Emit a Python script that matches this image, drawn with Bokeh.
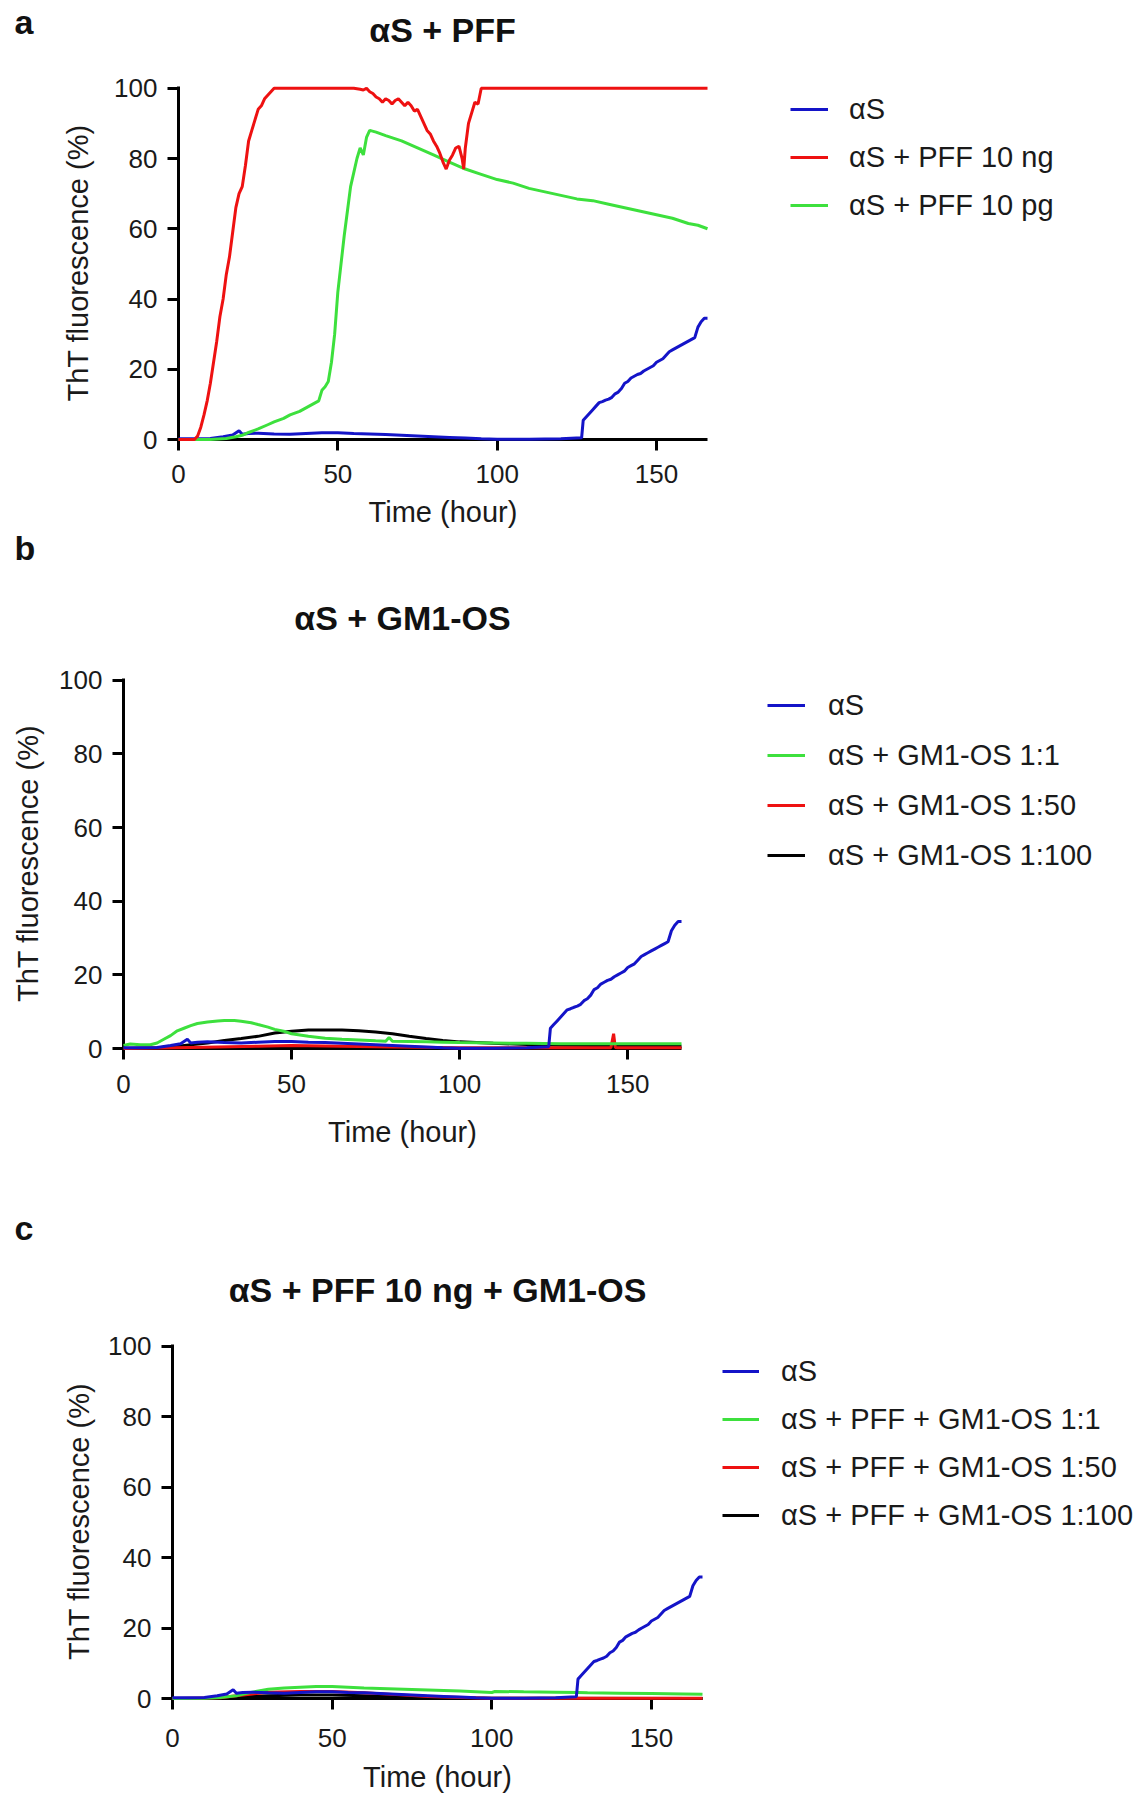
from bokeh.plotting import figure
from bokeh.models import Legend, LegendItem, Label, Range1d, FixedTicker
from bokeh.embed import file_html
from bokeh.resources import INLINE

FONT = "Liberation Sans"
PAGE_W = 1140

# ---------------- data ----------------
# alpha-synuclein alone (same control curve in all panels)
t_as = [0, 5, 10, 14, 17, 19, 20, 22, 25, 30, 35, 40, 45, 50, 55, 60, 65, 70, 75, 80, 85, 90, 95,
        100, 110, 120, 126.5, 127, 128, 129, 130, 131, 132, 133, 134, 135, 136, 137, 138, 139, 140,
        141, 142, 143, 144, 145, 146, 147, 148, 149, 150, 151, 152, 153, 154, 155, 156, 157, 158,
        159, 160, 161, 162, 163, 164, 165, 166]
y_as = [0.2, 0.2, 0.3, 0.8, 1.3, 2.5, 1.5, 1.7, 1.8, 1.6, 1.5, 1.7, 1.9, 1.9, 1.7, 1.6, 1.4, 1.2,
        1.0, 0.8, 0.6, 0.4, 0.2, 0.1, 0.1, 0.2, 0.5, 5.5, 6.5, 7.5, 8.5, 9.5, 10.5, 10.8, 11.2, 11.5,
        12.0, 13.0, 13.5, 14.5, 16.0, 16.5, 17.5, 18.0, 18.5, 18.8, 19.5, 20.0, 20.5, 21.0, 22.0,
        22.5, 23.0, 24.0, 25.0, 25.5, 26.0, 26.5, 27.0, 27.5, 28.0, 28.5, 29.0, 32.0, 33.5, 34.5, 34.5]

# panel a: + PFF 10 ng
t_pff_ng = [0, 3, 5, 6, 7, 8, 9, 10, 11, 12, 13, 14, 15, 16, 17, 18, 19, 20, 21, 22, 23, 24, 25, 26,
            27, 28, 29, 30, 31, 35, 40, 45, 50, 55, 57, 58, 59, 60, 61, 62, 63, 64, 65, 66, 67, 68,
            69, 70, 71, 72, 73, 74, 75, 76, 77, 78, 79, 80, 81, 82, 83, 84, 85, 86, 87, 88, 89,
            89.5, 90, 91, 92, 93, 94, 95, 100, 120, 140, 166]
y_pff_ng = [0, 0, 0, 1, 3.5, 7, 11, 16, 22, 28, 35, 40, 47, 52, 59, 66, 70, 72, 78, 85, 88, 91, 94,
            95, 97, 98, 99, 100, 100, 100, 100, 100, 100, 100, 99.7, 99.5, 100, 99, 98.5, 97.5, 97,
            96, 97, 96.5, 95.5, 96.5, 97, 96, 95, 96, 95, 93.5, 94, 92, 90, 88, 87, 85, 83.5, 81.5,
            79, 77, 79.5, 81, 83, 83.5, 80, 77, 83, 90, 93, 96, 95.5, 100, 100, 100, 100, 100]

# panel a: + PFF 10 pg
t_pff_pg = [0, 10, 15, 18, 20, 22, 25, 28, 30, 33, 35, 38, 40, 42, 44, 45, 46, 47, 48, 49, 50, 51,
            52, 53, 54, 55, 56, 57, 58, 59, 60, 62, 65, 70, 75, 80, 85, 90, 95, 100, 105, 110, 115,
            120, 125, 130, 135, 140, 145, 150, 155, 160, 163, 166]
y_pff_pg = [0, 0, 0.3, 0.8, 1.2, 2, 3, 4.2, 5, 6, 7, 8, 9, 10, 11, 14, 15, 16.5, 22, 30, 42, 50,
            58, 65, 72, 76, 80, 83, 81, 86, 88, 87.5, 86.5, 85, 83, 81, 79, 77, 75.5, 74, 73, 71.5,
            70.5, 69.5, 68.5, 68, 67, 66, 65, 64, 63, 61.5, 61, 60]

# panel b: + GM1-OS
t_gm_1 = [0, 2, 5, 8, 10, 12, 14, 16, 18, 20, 22, 25, 28, 30, 33, 35, 38, 40, 43, 45, 48, 50, 55,
          60, 65, 70, 75, 78, 79, 80, 85, 90, 95, 100, 110, 120, 130, 140, 150, 160, 166]
y_gm_1 = [0.8, 1.2, 1.0, 1.0, 1.5, 2.5, 3.5, 4.8, 5.5, 6.2, 6.8, 7.2, 7.5, 7.6, 7.6, 7.4, 7.0, 6.5,
          5.8, 5.2, 4.6, 4.0, 3.3, 2.8, 2.5, 2.3, 2.1, 2.0, 3.0, 2.0, 1.9, 1.8, 1.7, 1.6, 1.5, 1.4,
          1.3, 1.3, 1.3, 1.3, 1.3]
t_gm_50 = [0, 20, 40, 50, 60, 80, 100, 120, 145, 145.8, 146.3, 147, 166]
y_gm_50 = [0, 0.3, 0.6, 0.8, 0.7, 0.4, 0.2, 0.2, 0.2, 4.0, 0.3, 0.2, 0.2]
t_gm_100 = [0, 10, 15, 20, 25, 30, 35, 40, 45, 50, 55, 60, 65, 70, 75, 80, 85, 90, 95, 100, 105,
            110, 120, 130, 140, 150, 166]
y_gm_100 = [0, 0.2, 0.5, 1.0, 1.5, 2.2, 2.7, 3.3, 4.2, 4.7, 5.0, 5.0, 5.0, 4.8, 4.5, 4.0, 3.3, 2.7,
            2.2, 1.8, 1.6, 1.4, 1.1, 0.9, 0.8, 0.7, 0.6]

# panel c: + PFF 10 ng + GM1-OS
t_pg_1 = [0, 10, 15, 20, 25, 30, 35, 40, 45, 50, 55, 60, 70, 80, 90, 100, 101, 110, 120, 127, 130,
          140, 150, 160, 166]
y_pg_1 = [0, 0.1, 0.3, 0.8, 1.8, 2.6, 3.0, 3.2, 3.4, 3.4, 3.2, 3.0, 2.7, 2.4, 2.1, 1.7, 2.0, 1.9,
          1.8, 1.7, 1.6, 1.5, 1.4, 1.3, 1.2]
t_pg_50 = [0, 15, 20, 25, 30, 40, 50, 60, 70, 80, 90, 100, 127, 166]
y_pg_50 = [0, 0.2, 0.8, 1.3, 1.8, 2.0, 2.0, 1.6, 1.1, 0.6, 0.3, 0.1, 0.05, 0.05]
t_pg_100 = [0, 15, 20, 30, 40, 50, 60, 70, 80, 100, 166]
y_pg_100 = [0, 0.1, 0.4, 0.8, 1.0, 1.0, 0.8, 0.5, 0.2, 0.05, 0.0]

x_ticks = [0, 50, 100, 150]
y_ticks = [0, 20, 40, 60, 80, 100]

BLUE = "#1414c8"
RED = "#ee1111"
GREEN = "#3de03d"
BLACK = "#000000"
TXT = "#1a1a1a"


def make_header(letter, title, height, letter_y, title_y, title_cx):
    h = figure(width=PAGE_W, height=height, output_backend="svg", toolbar_location=None,
               x_range=Range1d(0, PAGE_W), y_range=Range1d(0, height),
               x_axis_location=None, y_axis_location=None,
               min_border=0, min_border_left=0, min_border_right=0,
               min_border_top=0, min_border_bottom=0)
    h.grid.visible = False
    h.outline_line_color = None
    h.add_layout(Label(x=14, y=letter_y, x_units="screen", y_units="screen",
                       text=letter, text_font=FONT, text_font_size="34px",
                       text_font_style="bold", text_color="#111111",
                       text_baseline="alphabetic", text_align="left"))
    h.add_layout(Label(x=title_cx, y=title_y, x_units="screen", y_units="screen",
                       text=title, text_font=FONT, text_font_size="34px",
                       text_font_style="bold", text_color="#111111",
                       text_baseline="alphabetic", text_align="center"))
    return h


def make_panel(series, legend_order, frame_left, frame_w, frame_h, top, bottom,
               ylab_standoff, xtick_standoff, xlab_standoff, leg_xy, leg_spacing,
               leg_standoff, leg_glyph_w):
    p = figure(frame_width=frame_w, frame_height=frame_h, output_backend="svg",
               toolbar_location=None, x_range=Range1d(0, 166), y_range=Range1d(0, 100.5),
               min_border_left=frame_left, min_border_top=top, min_border_bottom=bottom,
               min_border_right=PAGE_W - frame_left - frame_w)
    p.grid.visible = False
    p.outline_line_color = None

    for ax in (p.xaxis[0], p.yaxis[0]):
        ax.axis_line_width = 3
        ax.axis_line_color = "black"
        ax.major_tick_line_width = 3
        ax.major_tick_line_color = "black"
        ax.major_tick_out = 11
        ax.major_tick_in = 0
        ax.minor_tick_line_color = None
        ax.major_label_text_font = FONT
        ax.major_label_text_font_size = "26px"
        ax.major_label_text_color = TXT
        ax.axis_label_text_font = FONT
        ax.axis_label_text_font_style = "normal"
        ax.axis_label_text_color = TXT
        ax.axis_label_text_font_size = "29px"
    p.xaxis[0].ticker = FixedTicker(ticks=x_ticks)
    p.yaxis[0].ticker = FixedTicker(ticks=y_ticks)
    p.xaxis[0].axis_label = "Time (hour)"
    p.yaxis[0].axis_label = "ThT fluorescence (%)"
    p.yaxis[0].major_label_standoff = 10
    p.yaxis[0].axis_label_standoff = ylab_standoff
    p.xaxis[0].major_label_standoff = xtick_standoff
    p.xaxis[0].axis_label_standoff = xlab_standoff

    renderers = {}
    for name, (t, y, color) in series.items():
        renderers[name] = p.line(t, y, line_color=color, line_width=3, level="overlay")

    items = [LegendItem(label=name, renderers=[renderers[name]]) for name in legend_order]
    legend = Legend(items=items, location=leg_xy, orientation="vertical",
                    label_text_font=FONT, label_text_font_size="29px",
                    label_text_color=TXT, glyph_width=leg_glyph_w, glyph_height=34,
                    label_height=34, spacing=leg_spacing, label_standoff=leg_standoff,
                    padding=0, margin=0, border_line_color=None, background_fill_alpha=0)
    p.add_layout(legend, "right")
    return p


ha = make_header("a", "\u03b1S + PFF", 60, 39, 31, 442)
pa = make_panel(
    {"\u03b1S": (t_as, y_as, BLUE),
     "\u03b1S + PFF 10 pg": (t_pff_pg, y_pff_pg, GREEN),
     "\u03b1S + PFF 10 ng": (t_pff_ng, y_pff_ng, RED)},
    ["\u03b1S", "\u03b1S + PFF 10 ng", "\u03b1S + PFF 10 pg"],
    frame_left=178, frame_w=529, frame_h=353, top=26, bottom=90,
    ylab_standoff=17, xtick_standoff=14, xlab_standoff=10,
    leg_xy=(83, 217), leg_spacing=14, leg_standoff=21, leg_glyph_w=38)

hb = make_header("b", "\u03b1S + GM1-OS", 122, 105, 35, 402)
pb = make_panel(
    {"\u03b1S + GM1-OS 1:100": (t_gm_100, y_gm_100, BLACK),
     "\u03b1S + GM1-OS 1:50": (t_gm_50, y_gm_50, RED),
     "\u03b1S + GM1-OS 1:1": (t_gm_1, y_gm_1, GREEN),
     "\u03b1S": (t_as, y_as, BLUE)},
    ["\u03b1S", "\u03b1S + GM1-OS 1:1", "\u03b1S + GM1-OS 1:50", "\u03b1S + GM1-OS 1:100"],
    frame_left=123, frame_w=558, frame_h=370, top=26, bottom=155,
    ylab_standoff=12, xtick_standoff=15, xlab_standoff=20,
    leg_xy=(86, 176), leg_spacing=16, leg_standoff=23, leg_glyph_w=38)

hc = make_header("c", "\u03b1S + PFF 10 ng + GM1-OS", 118, 94, 32, 437)
pc = make_panel(
    {"\u03b1S + PFF + GM1-OS 1:100": (t_pg_100, y_pg_100, BLACK),
     "\u03b1S + PFF + GM1-OS 1:50": (t_pg_50, y_pg_50, RED),
     "\u03b1S + PFF + GM1-OS 1:1": (t_pg_1, y_pg_1, GREEN),
     "\u03b1S": (t_as, y_as, BLUE)},
    ["\u03b1S", "\u03b1S + PFF + GM1-OS 1:1", "\u03b1S + PFF + GM1-OS 1:50",
     "\u03b1S + PFF + GM1-OS 1:100"],
    frame_left=172, frame_w=530, frame_h=354, top=23, bottom=93,
    ylab_standoff=10, xtick_standoff=19, xlab_standoff=11,
    leg_xy=(20, 166), leg_spacing=14, leg_standoff=22, leg_glyph_w=37)

open("out.html", "w").write(file_html([ha, pa, hb, pb, hc, pc], INLINE))
